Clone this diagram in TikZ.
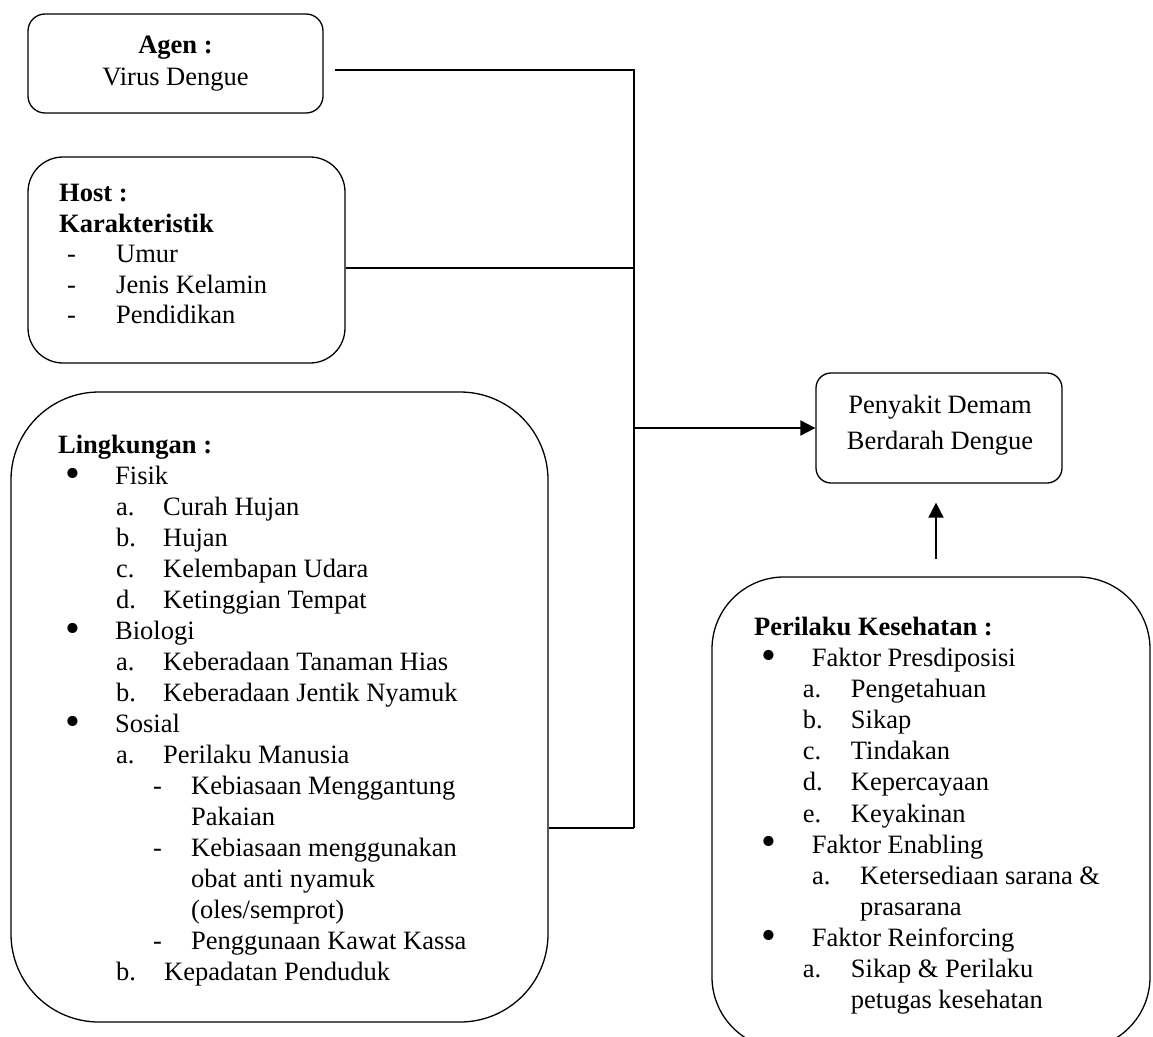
\documentclass[tikz,border=0pt]{standalone}
\usepackage{fontspec}
\setmainfont{Liberation Serif}
\usetikzlibrary{arrows.meta,calc}
\newcommand\putat[2]{\makebox[0pt][l]{\hspace*{#1}#2}}
\newcommand\bigbul{\smash{\raisebox{-0.1em}{\scalebox{1.6}{\textbullet}}}}
\begin{document}
\begin{tikzpicture}[x=1pt,y=-1pt,
  box/.style={draw,line width=1.3pt,inner sep=0pt},
  conn/.style={line width=1.3pt},
  arr/.style={line width=2pt,-{Triangle[length=15pt,width=15pt]}},
  txt/.style={inner sep=0pt,anchor=base west},
  ctxt/.style={inner sep=0pt,anchor=base}]
\useasboundingbox (0,0) rectangle (1153,1036);
% boxes
\node[box,rounded corners=17pt,minimum width=295pt,minimum height=99pt] (agen) at (175.5,63.5) {};
\node[box,rounded corners=35pt,minimum width=317pt,minimum height=206pt] (host) at (186.5,260) {};
\node[box,rounded corners=88pt,minimum width=537pt,minimum height=630pt] (ling) at (279.5,707) {};
\node[box,rounded corners=15pt,minimum width=246pt,minimum height=110pt] (pen) at (939,428) {};
\node[box,rounded corners=72pt,minimum width=438pt,minimum height=472pt] (per) at (931,813) {};
% texts
\node[ctxt,font=\fontsize{26.5}{32}\selectfont] (agentxt) at (175.5,53)
  {\begin{tabular}[t]{@{}c@{}}\textbf{Agen :}\\Virus Dengue\end{tabular}};
\node[ctxt,font=\fontsize{26.5}{36}\selectfont] (pentxt) at (940,413)
  {\begin{tabular}[t]{@{}c@{}}Penyakit Demam\\Berdarah Dengue\end{tabular}};
\node[txt,font=\fontsize{26.5}{30.5}\selectfont] (hosttxt) at (59,201.5)
  {\begin{tabular}[t]{@{}l@{}}
  \textbf{Host :}\\
  \textbf{Karakteristik}\\
  \putat{8pt}{-}\putat{57pt}{Umur}\\
  \putat{8pt}{-}\putat{57pt}{Jenis Kelamin}\\
  \putat{8pt}{-}\putat{57pt}{Pendidikan}
  \end{tabular}};
\node[txt,font=\fontsize{26.5}{31}\selectfont] (lingtxt) at (58,453.5)
  {\begin{tabular}[t]{@{}l@{}}
  \textbf{Lingkungan :}\\
  \putat{7.6pt}{\bigbul}\putat{57pt}{Fisik}\\
  \putat{58pt}{a.}\putat{105pt}{Curah Hujan}\\
  \putat{58pt}{b.}\putat{105pt}{Hujan}\\
  \putat{58pt}{c.}\putat{105pt}{Kelembapan Udara}\\
  \putat{58pt}{d.}\putat{105pt}{Ketinggian Tempat}\\
  \putat{7.6pt}{\bigbul}\putat{57pt}{Biologi}\\
  \putat{58pt}{a.}\putat{105pt}{Keberadaan Tanaman Hias}\\
  \putat{58pt}{b.}\putat{105pt}{Keberadaan Jentik Nyamuk}\\
  \putat{7.6pt}{\bigbul}\putat{57pt}{Sosial}\\
  \putat{58pt}{a.}\putat{105pt}{Perilaku Manusia}\\
  \putat{95pt}{-}\putat{133pt}{Kebiasaan Menggantung}\\
  \putat{133pt}{Pakaian}\\
  \putat{95pt}{-}\putat{133pt}{Kebiasaan menggunakan}\\
  \putat{133pt}{obat anti nyamuk}\\
  \putat{133pt}{(oles/semprot)}\\
  \putat{95pt}{-}\putat{133pt}{Penggunaan Kawat Kassa}\\
  \putat{58pt}{b.}\putat{106pt}{Kepadatan Penduduk}
  \end{tabular}};
\node[txt,font=\fontsize{26.5}{31.1}\selectfont] (pertxt) at (754,635.4)
  {\begin{tabular}[t]{@{}l@{}}
  \textbf{Perilaku Kesehatan :}\\
  \putat{7.6pt}{\bigbul}\putat{57.7pt}{Faktor Presdiposisi}\\
  \putat{48.7pt}{a.}\putat{96.7pt}{Pengetahuan}\\
  \putat{48.7pt}{b.}\putat{96.7pt}{Sikap}\\
  \putat{48.7pt}{c.}\putat{96.7pt}{Tindakan}\\
  \putat{48.7pt}{d.}\putat{96.7pt}{Kepercayaan}\\
  \putat{48.7pt}{e.}\putat{96.7pt}{Keyakinan}\\
  \putat{7.6pt}{\bigbul}\putat{57.7pt}{Faktor Enabling}\\
  \putat{58pt}{a.}\putat{106pt}{Ketersediaan sarana \&}\\
  \putat{106pt}{prasarana}\\
  \putat{7.6pt}{\bigbul}\putat{57.7pt}{Faktor Reinforcing}\\
  \putat{48.7pt}{a.}\putat{96.7pt}{Sikap \& Perilaku}\\
  \putat{96.7pt}{petugas kesehatan}
  \end{tabular}};
% connectors
\coordinate (agenout) at (335,70);
\coordinate (jtop) at (634,70);
\coordinate (jhost) at (634,268);
\coordinate (jarr) at (634,428);
\coordinate (jbot) at (634,828);
\draw[conn] (agenout) -- (jtop) -- (jbot);
\draw[conn] ([yshift=-8pt]host.east) -- (jhost);
\draw[conn] ([yshift=-121pt]ling.east) -- (jbot);
\draw[arr] (jarr) -- (jarr -| pen.west);
\coordinate (vx) at ([xshift=-3pt]pen.south);
\draw[arr,shorten <=17pt,shorten >=19pt] (per.north -| vx) -- (vx);
\end{tikzpicture}
\end{document}
